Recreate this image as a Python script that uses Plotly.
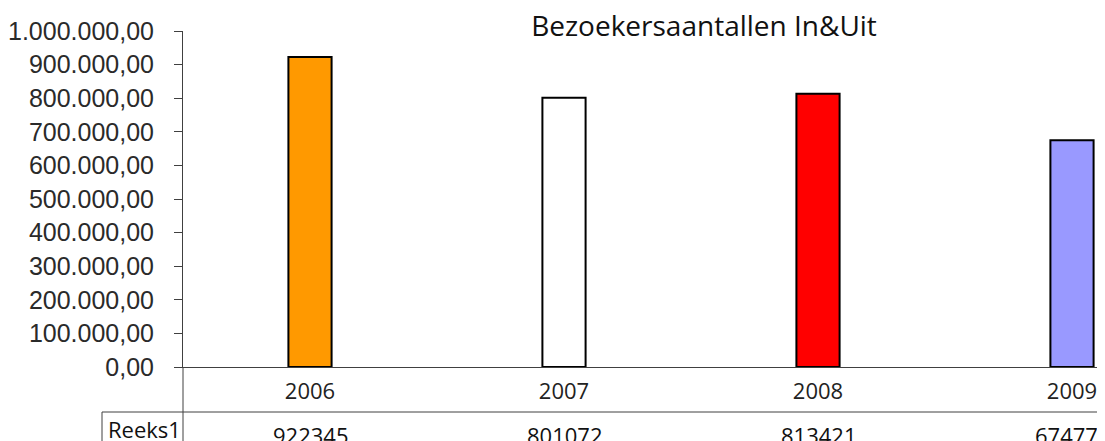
import plotly.graph_objects as go

categories = ["2006", "2007", "2008", "2009"]
values = [922345, 801072, 813421, 674771]
bar_colors = ["#FF9900", "#FFFFFF", "#FF0000", "#9999FF"]
series_name = "Reeks1"
title_text = "Bezoekersaantallen In&Uit"
y_ticks = [0, 100000, 200000, 300000, 400000, 500000, 600000, 700000, 800000, 900000, 1000000]

# the page body has an 8px default margin; positions below are window pixels
OFF = 8
W, H = 1105 - OFF, 441 - OFF
L, T = 183 - OFF, 31 - OFF
R = 0
plot_h = 336
B = H - T - plot_h
plot_w = W - L - R

def py(pix):
    return (T + plot_h - (pix - OFF)) / plot_h

def px(pix):
    return (pix - OFF - L) / plot_w

line_col = "#404040"
label_font = "Open Sans"
tick_font = "Liberation Sans, Arial, sans-serif"

fig = go.Figure()
fig.add_trace(go.Bar(
    x=categories, y=values, width=0.17,
    marker=dict(color=bar_colors, line=dict(color="#000000", width=2)),
    name=series_name, showlegend=False,
))

fig.update_layout(
    width=W, height=H,
    margin=dict(l=L, r=R, t=T, b=B, pad=0, autoexpand=False),
    paper_bgcolor="white", plot_bgcolor="white",
    separators=",.",
    title=dict(text=title_text, x=px(704), xref="paper", xanchor="center",
               y=1 - (26 - OFF) / H, yref="container", yanchor="middle",
               font=dict(family=label_font, size=28, color="#111111")),
    xaxis=dict(type="category", range=[-0.5, -0.5 + plot_w / 254.0],
               showline=True, linecolor=line_col, linewidth=1,
               ticks="", showgrid=False, zeroline=False, automargin=False,
               tickfont=dict(family=label_font, size=22, color="#222222"),
               ticklabelstandoff=5),
    yaxis=dict(range=[0, 1000000], tickvals=y_ticks, tickformat=",.2f",
               showline=True, linecolor=line_col, linewidth=1,
               ticks="outside", ticklen=8, tickcolor=line_col,
               showgrid=False, zeroline=False, automargin=False,
               tickfont=dict(family=tick_font, size=25, color="#2a2a2a"),
               ticklabelstandoff=15),
)

# axis extension through the data table and table borders
fig.add_shape(type="line", xref="paper", yref="paper", x0=0, x1=0, y0=0, y1=py(445),
              line=dict(color=line_col, width=1))
fig.add_shape(type="line", xref="paper", yref="paper", x0=px(102), x1=1, y0=py(412), y1=py(412),
              line=dict(color=line_col, width=1))
fig.add_shape(type="line", xref="paper", yref="paper", x0=px(102), x1=px(102), y0=py(412), y1=py(445),
              line=dict(color=line_col, width=1))

fig.add_annotation(text=series_name, xref="paper", yref="paper", x=px(106), y=py(429),
                   xanchor="left", yanchor="middle", showarrow=False,
                   font=dict(family=label_font, size=22, color="#111111"))
for i, v in enumerate(values):
    fig.add_annotation(text=str(v), x=i, xref="x", yref="paper", y=py(435),
                       xanchor="center", yanchor="middle", showarrow=False,
                       font=dict(family=label_font, size=22, color="#111111"))

fig.write_html("out.html")
